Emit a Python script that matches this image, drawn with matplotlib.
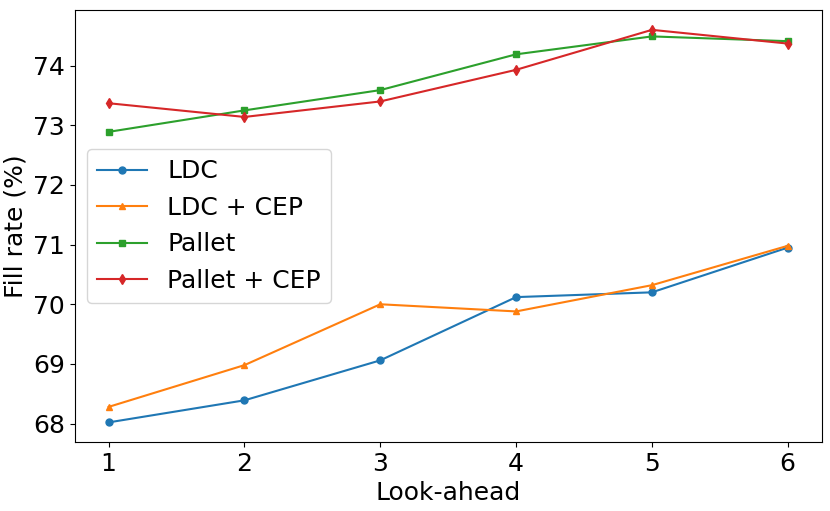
import matplotlib
matplotlib.use("Agg")
import matplotlib.pyplot as plt

look_ahead = [1, 2, 3, 4, 5, 6]
ldc = [68.02, 68.39, 69.06, 70.12, 70.20, 70.95]
ldc_cep = [68.28, 68.98, 70.00, 69.88, 70.32, 70.98]
pallet = [72.89, 73.25, 73.59, 74.19, 74.49, 74.41]
pallet_cep = [73.37, 73.14, 73.40, 73.93, 74.60, 74.37]

plt.rcParams['font.size'] = 18
fig, ax = plt.subplots(figsize=(8.3, 5.11), dpi=100)
ax.plot(look_ahead, ldc, marker='o', markersize=5, label='LDC')
ax.plot(look_ahead, ldc_cep, marker='^', markersize=5, label='LDC + CEP')
ax.plot(look_ahead, pallet, marker='s', markersize=5, label='Pallet')
ax.plot(look_ahead, pallet_cep, marker='d', markersize=5, label='Pallet + CEP')
ax.set_xlabel('Look-ahead')
ax.set_ylabel('Fill rate (%)')
ax.tick_params(labelsize=18)
ax.legend(loc='center left', fontsize=18)
fig.subplots_adjust(left=0.09, right=0.99, top=0.98, bottom=0.135)
fig.savefig('out.png', dpi=100)
